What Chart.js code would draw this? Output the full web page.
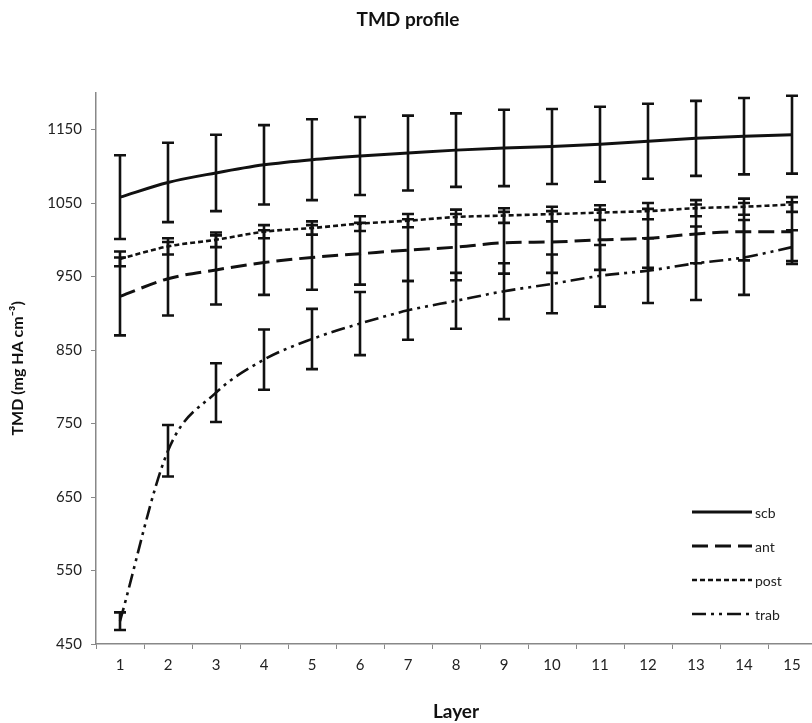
<!DOCTYPE html>
<html>
<head>
<meta charset="utf-8">
<script src="https://cdn.jsdelivr.net/npm/chart.js@4.4.1/dist/chart.umd.min.js"></script>
<style>
  html, body { margin: 0; padding: 0; background: #ffffff; overflow: hidden; width: 812px; height: 723px; }
  canvas { display: block; }
</style>
</head>
<body>
<canvas id="c" width="822" height="723"></canvas>
<script>
const layers = ['1','2','3','4','5','6','7','8','9','10','11','12','13','14','15'];
const yTickValues = [450, 550, 650, 750, 850, 950, 1050, 1150];

const scb     = [1058, 1078, 1091, 1102, 1109, 1114, 1118, 1122, 1125, 1127, 1130, 1134, 1138, 1141, 1143];
const scbErr  = [57, 54, 52, 54, 55, 53, 51, 50, 52, 51, 51, 51, 51, 52, 53];
const ant     = [923, 947, 959, 969, 976, 981, 986, 990, 996, 997, 1000, 1002, 1008, 1011, 1011];
const antErr  = [53, 50, 47, 44, 44, 42, 42, 45, 42, 42, 41, 40, 40, 39, 40];
const post    = [974, 991, 1000, 1011, 1016, 1022, 1026, 1031, 1033, 1035, 1037, 1039, 1043, 1045, 1048];
const postErr = [10, 11, 10, 9, 9, 10, 9, 10, 10, 10, 10, 11, 11, 11, 10];
const trab    = [481, 713, 792, 837, 865, 886, 904, 917, 930, 940, 951, 958, 968, 976, 990];
const trabErr = [12, 35, 40, 41, 41, 43, 40, 38, 38, 40, 42, 44, 50, 51, 23];

const FONT = 'Lato, "Open Sans", "Liberation Sans", sans-serif';

const errorBarPlugin = {
  id: 'errorBars',
  afterDatasetsDraw(chart) {
    const ctx = chart.ctx;
    const xs = chart.scales.x, ys = chart.scales.y;
    ctx.save();
    chart.data.datasets.forEach(ds => {
      const errs = ds.errors;
      if (!errs) return;
      ctx.strokeStyle = '#111';
      ctx.lineWidth = 2.6;
      ctx.setLineDash([]);
      ds.data.forEach((v, i) => {
        const x = xs.getPixelForValue(i);
        const yt = ys.getPixelForValue(v + errs[i]);
        const yb = ys.getPixelForValue(v - errs[i]);
        ctx.beginPath();
        ctx.moveTo(x, yt); ctx.lineTo(x, yb);
        ctx.moveTo(x - 6, yt); ctx.lineTo(x + 6, yt);
        ctx.moveTo(x - 6, yb); ctx.lineTo(x + 6, yb);
        ctx.stroke();
      });
    });
    ctx.restore();
  }
};

const legendPlugin = {
  id: 'insideLegend',
  afterDraw(chart) {
    const ctx = chart.ctx;
    ctx.save();
    const x0 = 692, x1 = 752;
    let y = 512;
    chart.data.datasets.forEach(ds => {
      ctx.strokeStyle = '#111';
      ctx.lineWidth = ds.borderWidth;
      ctx.setLineDash(ds.borderDash || []);
      ctx.beginPath();
      ctx.moveTo(x0, y); ctx.lineTo(x1, y);
      ctx.stroke();
      ctx.setLineDash([]);
      ctx.fillStyle = '#222';
      ctx.font = '14px ' + FONT;
      ctx.textBaseline = 'middle';
      ctx.textAlign = 'left';
      ctx.fillText(ds.label, x1 + 3, y + 1);
      y += 34;
    });
    ctx.restore();
  }
};

const common = { borderColor: '#111', pointRadius: 0, fill: false, cubicInterpolationMode: 'monotone' };

new Chart(document.getElementById('c'), {
  type: 'line',
  data: {
    labels: layers,
    datasets: [
      Object.assign({ label: 'scb', data: scb, errors: scbErr, borderWidth: 3, borderDash: [] }, common),
      Object.assign({ label: 'ant', data: ant, errors: antErr, borderWidth: 3, borderDash: [16, 7] }, common),
      Object.assign({ label: 'post', data: post, errors: postErr, borderWidth: 2.6, borderDash: [5, 3] }, common),
      Object.assign({ label: 'trab', data: trab, errors: trabErr, borderWidth: 2.6, borderDash: [14, 5, 3, 5, 3, 5] }, common)
    ]
  },
  options: {
    responsive: false,
    animation: false,
    devicePixelRatio: 1,
    layout: { padding: { left: 0, right: 6, top: 0, bottom: 0 } },
    plugins: {
      legend: { display: false },
      tooltip: { enabled: false },
      title: {
        display: true,
        text: 'TMD profile',
        color: '#111',
        font: { family: FONT, size: 19, weight: 'bold' },
        padding: { top: 8, bottom: 62 }
      }
    },
    scales: {
      x: {
        type: 'category',
        offset: true,
        afterFit(scale) { scale.height = 79; },
        grid: { display: true, drawOnChartArea: false, drawTicks: true, tickLength: 5, offset: true, color: '#888' },
        border: { display: true, color: '#888', width: 1.5 },
        ticks: { color: '#222', font: { family: FONT, size: 15 }, padding: 7, maxRotation: 0, autoSkip: false },
        title: { display: true, text: 'Layer', color: '#111', font: { family: FONT, size: 19, weight: 'bold' }, padding: { top: 0, bottom: 0 } }
      },
      y: {
        min: 450,
        max: 1200,
        afterFit(scale) { scale.width = 96; },
        afterBuildTicks(scale) { scale.ticks = yTickValues.map(v => ({ value: v })); },
        grid: { display: true, drawOnChartArea: false, drawTicks: true, tickLength: 5, color: '#888' },
        border: { display: true, color: '#888', width: 1.5 },
        ticks: { color: '#222', font: { family: FONT, size: 15 }, padding: 9, callback: (v) => String(v) },
        title: { display: true, text: 'TMD (mg HA cm⁻³)', color: '#111', font: { family: FONT, size: 16, weight: 'bold' }, padding: { top: 8, bottom: 0 } }
      }
    }
  },
  plugins: [errorBarPlugin, legendPlugin]
});
</script>
</body>
</html>
